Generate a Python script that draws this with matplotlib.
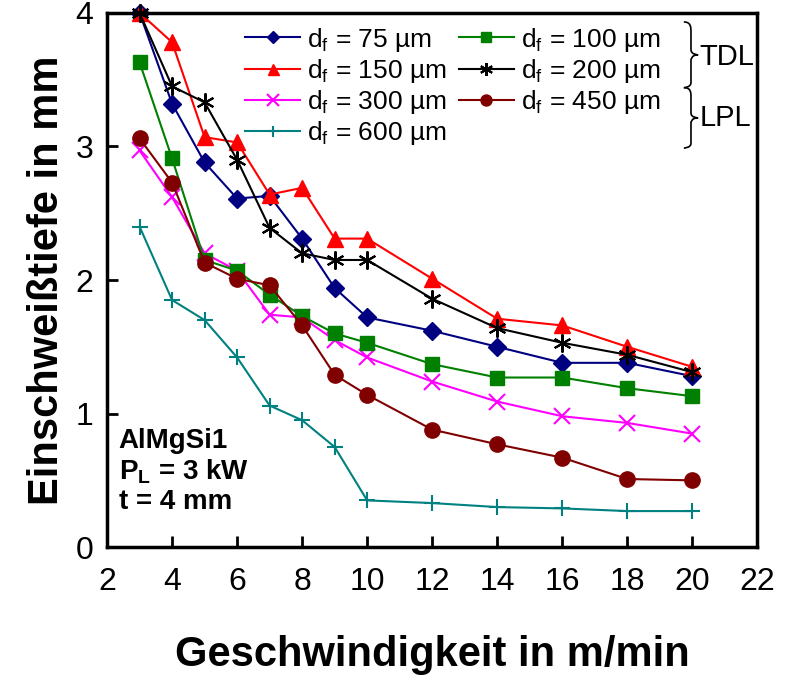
import matplotlib
matplotlib.use('Agg')
import matplotlib.pyplot as plt
from matplotlib.path import Path
from matplotlib.patches import PathPatch

plt.rcParams['font.family'] = ['Liberation Sans', 'DejaVu Sans']

# Geschwindigkeit in m/min
speed = [3, 4, 5, 6, 7, 8, 9, 10, 12, 14, 16, 18, 20]

# Einschweißtiefe in mm per Fokusdurchmesser
d75 = [4.00, 3.32, 2.88, 2.61, 2.63, 2.31, 1.94, 1.72, 1.62, 1.50, 1.38, 1.38, 1.28]
d150 = [4.00, 3.78, 3.07, 3.03, 2.64, 2.69, 2.31, 2.31, 2.01, 1.71, 1.66, 1.50, 1.35]
d300 = [2.97, 2.62, 2.20, 2.07, 1.74, 1.72, 1.55, 1.42, 1.24, 1.09, 0.98, 0.93, 0.85]
d600 = [2.40, 1.85, 1.70, 1.42, 1.06, 0.95, 0.75, 0.35, 0.33, 0.30, 0.29, 0.27, 0.27]
d100 = [3.63, 2.91, 2.15, 2.07, 1.89, 1.73, 1.60, 1.53, 1.37, 1.27, 1.27, 1.19, 1.13]
d200 = [4.00, 3.45, 3.33, 2.90, 2.39, 2.20, 2.15, 2.15, 1.86, 1.64, 1.53, 1.44, 1.31]
d450 = [3.06, 2.73, 2.13, 2.01, 1.96, 1.66, 1.29, 1.14, 0.88, 0.77, 0.67, 0.51, 0.50]

labels = ['75', '150', '300', '600', '100', '200', '450']
series = [d75, d150, d300, d600, d100, d200, d450]
colors = ['#000080', '#FF0000', '#FF00FF', '#008080', '#008000', '#000000', '#800000']
markers = ['D', '^', 'x', '+', 's', (6, 2, 0), 'o']
msizes = [9, 11, 12, 11, 10, 13, 11]


def brace(ax, x0, x1, ytop, ybot):
    # curly brace "}" in axes coords
    ym = (ytop + ybot) / 2
    xm = (x0 + x1) / 2
    d = (ytop - ybot) * 0.08
    verts = [(x0, ytop), (xm, ytop), (xm, ytop - d), (xm, ytop - 2 * d),
             (xm, ym + d), (xm, ym + d), (xm, ym + d),
             (xm, ym), (x1, ym), (x1, ym),
             (xm, ym), (xm, ym - d), (xm, ym - d),
             (xm, ybot + 2 * d), (xm, ybot + d), (xm, ybot + d),
             (xm, ybot), (x0, ybot), (x0, ybot)]
    codes = [Path.MOVETO] + [Path.CURVE4] * 3 + [Path.LINETO] * 3 + [Path.CURVE4] * 3 + \
            [Path.CURVE4] * 3 + [Path.LINETO] * 3 + [Path.CURVE4] * 3
    ax.add_patch(PathPatch(Path(verts, codes), transform=ax.transAxes, fill=False,
                           lw=1.2, color='black', clip_on=False))


fig, ax = plt.subplots(figsize=(7.93, 6.78), dpi=100)
fig.subplots_adjust(left=0.135, right=0.955, top=0.981, bottom=0.193)

for y, lab, c, m, ms in zip(series, labels, colors, markers, msizes):
    ax.plot(speed, y, color=c, marker=m, markersize=ms, linewidth=1.5,
            markeredgewidth=1.5 if m in ('x', '+') or isinstance(m, tuple) else 1,
            label='d$_\\mathregular{f}$ = %s µm' % lab, clip_on=False)

ax.set_xlim(2, 22)
ax.set_ylim(0, 4)
ax.set_xticks(range(2, 23, 2))
ax.set_yticks(range(0, 5))
for s in ax.spines.values():
    s.set_linewidth(2.5)
ax.tick_params(direction='in', length=8, width=2, labelsize=23, top=False, right=False)
ax.tick_params(axis='x', pad=14)
ax.tick_params(axis='y', pad=10)

ax.set_xlabel('Geschwindigkeit in m/min', fontsize=30, fontweight='bold', labelpad=28)
ax.set_ylabel('Einschweißtiefe in mm', fontsize=30, fontweight='bold', labelpad=6)

ax.legend(ncol=2, loc='upper left', bbox_to_anchor=(0.196, 0.996), frameon=False,
          fontsize=19, handlelength=2.1, handletextpad=0.25, columnspacing=0.45,
          labelspacing=0.12, markerscale=0.72, borderaxespad=0)

brace(ax, 0.887, 0.909, 0.983, 0.860)
brace(ax, 0.887, 0.909, 0.860, 0.747)
ax.text(0.911, 0.918, 'TDL', transform=ax.transAxes, fontsize=21, va='center', ha='left')
ax.text(0.911, 0.803, 'LPL', transform=ax.transAxes, fontsize=21, va='center', ha='left')

ax.text(0.018, 0.06, 'AlMgSi1\nP$_\\mathregular{L}$ = 3 kW\nt = 4 mm', transform=ax.transAxes,
        fontsize=20, fontweight='bold', va='bottom', ha='left', linespacing=1.15)

fig.savefig('out.png', dpi=100)
